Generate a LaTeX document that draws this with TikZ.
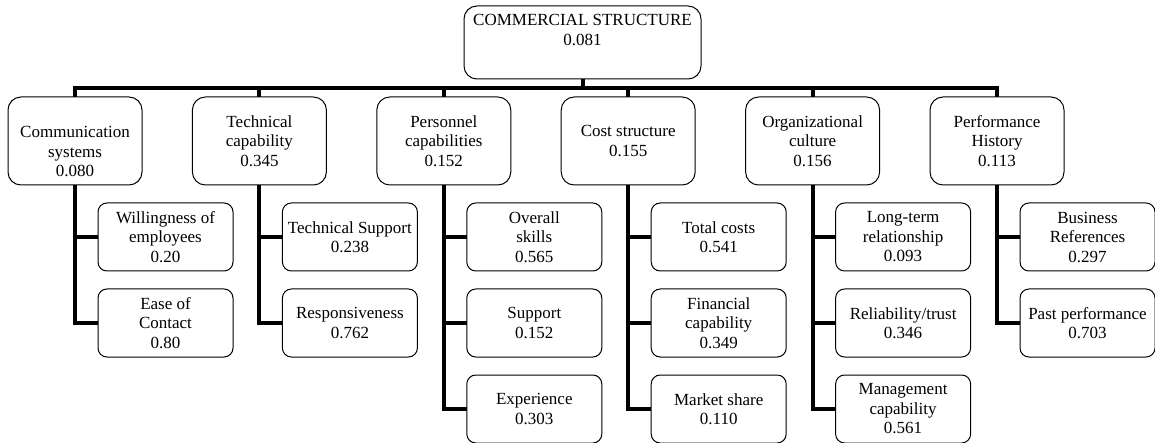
\documentclass[tikz,border=0pt]{standalone}
\usepackage{fontspec}
\setmainfont{Liberation Serif}
\usetikzlibrary{positioning}

\begin{document}
\begin{tikzpicture}[
		x=1pt, y=-1pt,
		node distance=18pt,
		link/.style={line width=4pt},
		box/.style={draw, line width=1pt, rounded corners=13pt, align=center, outer sep=0pt, font=\fontsize{17}{19.5}\selectfont},
		rootbox/.style={box, minimum width=237pt, minimum height=73pt},
		groupbox/.style={box, minimum width=134pt, minimum height=88pt},
		itembox/.style={box, rounded corners=9pt, minimum width=135pt, minimum height=68pt},
	]
	\useasboundingbox (0,0) rectangle (1155,443);
	\node[rootbox] (commercial) at (582.5,42.5) {COMMERCIAL STRUCTURE\\0.081\\\strut};
	\coordinate (bar) at (0,88);

	\node[groupbox] (communication) at (75,141) {\strut\\Communication\\systems\\0.080};
	\node[groupbox, right=50.4pt of communication] (technical) {Technical\\capability\\0.345};
	\node[groupbox, right=50.4pt of technical] (personnel) {Personnel\\capabilities\\0.152};
	\node[groupbox, right=50.4pt of personnel] (cost) {Cost structure\\0.155};
	\node[groupbox, right=50.4pt of cost] (culture) {Organizational\\culture\\0.156};
	\node[groupbox, right=50.4pt of culture] (history) {Performance\\History\\0.113};

	\node[itembox, below=of communication, xshift=90.5pt] (willingness) {Willingness of\\employees\\0.20};
	\node[itembox, below=of willingness] (contact) {Ease of\\Contact\\0.80};

	\node[itembox, below=of technical, xshift=90.5pt] (support tech) {Technical Support\\0.238};
	\node[itembox, below=of support tech] (responsiveness) {Responsiveness\\0.762};

	\node[itembox, below=of personnel, xshift=90.5pt] (skills) {Overall\\skills\\0.565};
	\node[itembox, below=of skills] (support) {Support\\0.152};
	\node[itembox, below=of support] (experience) {Experience\\0.303};

	\node[itembox, below=of cost, xshift=90.5pt] (total costs) {Total costs\\0.541};
	\node[itembox, below=of total costs] (financial) {Financial\\capability\\0.349};
	\node[itembox, below=of financial] (market share) {Market share\\0.110};

	\node[itembox, below=of culture, xshift=90.5pt] (relationship) {Long-term\\relationship\\0.093};
	\node[itembox, below=of relationship] (trust) {Reliability/trust\\0.346};
	\node[itembox, below=of trust] (management) {Management\\capability\\0.561};

	\node[itembox, below=of history, xshift=90.5pt] (references) {Business\\References\\0.297};
	\node[itembox, below=of references] (past) {Past performance\\0.703};

	\draw[link] (commercial.south) -- (commercial.south|-bar);
	\draw[link] (communication.north) -- (communication.north|-bar) -- (history.north|-bar) -- (history.north);
	\foreach \group in {technical, personnel, cost, culture}
		\draw[link] (\group.north) -- (\group.north|-bar);

	\draw[link] (communication.south|-willingness.west) -- (willingness.west);
	\draw[link] (communication.south) |- (contact.west);
	\draw[link] (technical.south|-support tech.west) -- (support tech.west);
	\draw[link] (technical.south) |- (responsiveness.west);
	\draw[link] (personnel.south|-skills.west) -- (skills.west);
	\draw[link] (personnel.south|-support.west) -- (support.west);
	\draw[link] (personnel.south) |- (experience.west);
	\draw[link] (cost.south|-total costs.west) -- (total costs.west);
	\draw[link] (cost.south|-financial.west) -- (financial.west);
	\draw[link] (cost.south) |- (market share.west);
	\draw[link] (culture.south|-relationship.west) -- (relationship.west);
	\draw[link] (culture.south|-trust.west) -- (trust.west);
	\draw[link] (culture.south) |- (management.west);
	\draw[link] (history.south|-references.west) -- (references.west);
	\draw[link] (history.south) |- (past.west);
\end{tikzpicture}
\end{document}
